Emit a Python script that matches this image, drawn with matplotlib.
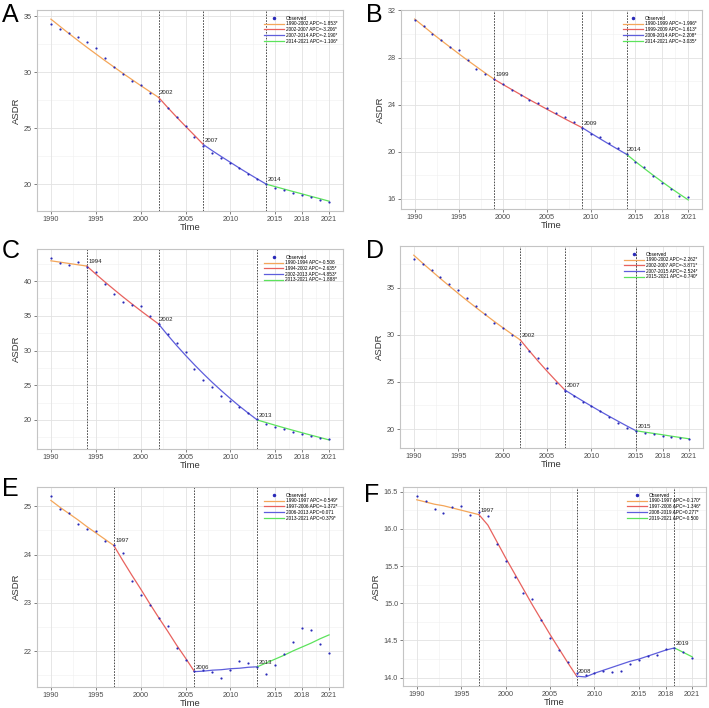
import matplotlib
matplotlib.use("Agg")
import matplotlib.pyplot as plt
from matplotlib.lines import Line2D

plt.rcParams['font.family'] = ['Liberation Sans', 'DejaVu Sans']

years = list(range(1990, 2022))
xticks = [1990, 1995, 2000, 2005, 2010, 2015, 2018, 2021]

# observed ASDR + fitted joinpoint values, per panel
obs_a = [34.37, 33.89, 33.50, 33.17, 32.69, 32.22, 31.29, 30.51, 29.88, 29.25, 28.86, 28.14,
         27.49, 26.83, 26.05, 25.24, 24.19, 23.44, 22.84, 22.34, 21.89, 21.44, 20.96, 20.45,
         20.00, 19.70, 19.49, 19.22, 19.04, 18.83, 18.59, 18.44]
fit_a = [34.76, 34.12, 33.48, 32.86, 32.25, 31.66, 31.07, 30.50, 29.93, 29.38, 28.83, 28.30,
         27.77, 26.88, 26.02, 25.19, 24.38, 23.55, 23.00, 22.48, 21.97, 21.46, 20.97, 20.49,
         20.02, 19.80, 19.58, 19.36, 19.15, 18.93, 18.72, 18.50]
joins_a = [1990, 2002, 2007, 2014, 2021]
apc_a = ["1990-2002 APC=-1.853*", "2002-2007 APC=-3.206*", "2007-2014 APC=-2.190*", "2014-2021 APC=-1.106*"]
yticks_a = [20, 25, 30, 35]

obs_b = [31.16, 30.68, 30.03, 29.53, 28.91, 28.63, 27.76, 27.00, 26.61, 26.16, 25.74, 25.26,
         24.84, 24.42, 24.11, 23.69, 23.32, 22.96, 22.53, 22.03, 21.49, 21.21, 20.74, 20.31,
         19.81, 19.11, 18.66, 17.96, 17.37, 16.83, 16.27, 16.16]
fit_b = [31.27, 30.66, 30.05, 29.46, 28.89, 28.32, 27.76, 27.22, 26.68, 26.16, 25.71, 25.28,
         24.85, 24.42, 24.01, 23.60, 23.20, 22.80, 22.41, 22.03, 21.56, 21.10, 20.65, 20.21,
         19.78, 19.17, 18.58, 18.01, 17.46, 16.92, 16.40, 15.90]
joins_b = [1990, 1999, 2009, 2014, 2021]
apc_b = ["1990-1999 APC=-1.996*", "1999-2009 APC=-1.613*", "2009-2014 APC=-2.208*", "2014-2021 APC=-3.035*"]
yticks_b = [16, 20, 24, 28, 32]

obs_c = [43.31, 42.59, 42.30, 42.68, 42.06, 41.25, 39.57, 38.13, 37.03, 36.60, 36.36, 34.92,
         33.77, 32.38, 31.13, 29.74, 27.39, 25.81, 24.71, 23.51, 22.79, 21.83, 20.97, 20.15,
         19.42, 18.95, 18.67, 18.24, 17.95, 17.71, 17.42, 17.23]
fit_c = [42.92, 42.73, 42.54, 42.35, 42.16, 41.01, 39.90, 38.82, 37.76, 36.74, 35.74, 34.77,
         33.82, 32.24, 30.74, 29.31, 27.94, 26.64, 25.39, 24.21, 23.08, 22.00, 20.98, 20.00,
         19.62, 19.24, 18.87, 18.51, 18.16, 17.81, 17.47, 17.13]
joins_c = [1990, 1994, 2002, 2013, 2021]
apc_c = ["1990-1994 APC=-0.508", "1994-2002 APC=-2.635*", "2002-2013 APC=-4.853*", "2013-2021 APC=-1.888*"]
yticks_c = [20, 25, 30, 35, 40]

obs_d = [38.00, 37.50, 36.82, 36.07, 35.39, 34.71, 33.89, 33.04, 32.21, 31.29, 30.71, 29.96,
         29.00, 28.29, 27.50, 26.43, 24.93, 24.07, 23.46, 22.86, 22.39, 21.89, 21.25, 20.61,
         20.14, 19.82, 19.61, 19.43, 19.29, 19.14, 19.07, 18.96]
fit_d = [38.43, 37.58, 36.76, 35.95, 35.16, 34.38, 33.62, 32.88, 32.16, 31.45, 30.76, 30.09,
         29.43, 28.29, 27.19, 26.13, 25.12, 24.14, 23.55, 22.98, 22.42, 21.87, 21.34, 20.82,
         20.31, 19.82, 19.67, 19.53, 19.39, 19.24, 19.10, 18.96]
joins_d = [1990, 2002, 2007, 2015, 2021]
apc_d = ["1990-2002 APC=-2.262*", "2002-2007 APC=-3.871*", "2007-2015 APC=-2.524*", "2015-2021 APC=-0.740*"]
yticks_d = [20, 25, 30, 35]

obs_e = [25.21, 24.94, 24.86, 24.64, 24.52, 24.49, 24.29, 24.19, 24.04, 23.45, 23.17, 22.95,
         22.69, 22.52, 22.07, 21.82, 21.60, 21.62, 21.57, 21.45, 21.62, 21.79, 21.75, 21.68,
         21.54, 21.72, 21.94, 22.19, 22.49, 22.45, 22.16, 21.96]
fit_e = [25.12, 24.98, 24.85, 24.72, 24.58, 24.45, 24.32, 24.19, 23.88, 23.58, 23.29, 22.99,
         22.70, 22.42, 22.13, 21.86, 21.58, 21.59, 21.61, 21.62, 21.64, 21.65, 21.67, 21.68,
         21.76, 21.84, 21.92, 22.01, 22.09, 22.17, 22.26, 22.34]
joins_e = [1990, 1997, 2006, 2013, 2021]
apc_e = ["1990-1997 APC=-0.549*", "1997-2006 APC=-1.372*", "2006-2013 APC=0.071", "2013-2021 APC=0.379*"]
yticks_e = [22, 23, 24, 25]

obs_f = [16.44, 16.37, 16.27, 16.21, 16.29, 16.30, 16.18, 16.22, 16.17, 15.79, 15.57, 15.35,
         15.14, 15.06, 14.78, 14.53, 14.37, 14.21, 14.06, 14.04, 14.06, 14.09, 14.07, 14.09,
         14.19, 14.24, 14.29, 14.31, 14.38, 14.40, 14.34, 14.27]
fit_f = [16.39, 16.36, 16.33, 16.31, 16.28, 16.25, 16.22, 16.19, 16.05, 15.83, 15.61, 15.40,
         15.19, 14.98, 14.78, 14.58, 14.39, 14.20, 14.02, 14.01, 14.06, 14.10, 14.14, 14.18,
         14.22, 14.25, 14.29, 14.33, 14.37, 14.40, 14.34, 14.28]
joins_f = [1990, 1997, 2008, 2019, 2021]
apc_f = ["1990-1997 APC=-0.170*", "1997-2008 APC=-1.346*", "2008-2019 APC=0.277*", "2019-2021 APC=-0.500"]
yticks_f = [14.0, 14.5, 15.0, 15.5, 16.0, 16.5]

# (letter, data..., axes box l,t,r,b in px, letter position x,y in px)
panels = [
    ("A", obs_a, fit_a, joins_a, apc_a, yticks_a, (37, 10, 343, 211), (2, 3)),
    ("B", obs_b, fit_b, joins_b, apc_b, yticks_b, (401, 10, 702, 209), (366, 3)),
    ("C", obs_c, fit_c, joins_c, apc_c, yticks_c, (37, 249, 343, 449), (2, 239)),
    ("D", obs_d, fit_d, joins_d, apc_d, yticks_d, (400, 246, 703, 448), (366, 239)),
    ("E", obs_e, fit_e, joins_e, apc_e, yticks_e, (37, 487, 343, 687), (2, 477)),
    ("F", obs_f, fit_f, joins_f, apc_f, yticks_f, (403, 487, 706, 686), (364, 483)),
]

seg_colors = ['#F4A65A', '#E8625E', '#5E5EDC', '#5CE35C']
W, H = 709, 708

fig = plt.figure(figsize=(W / 100, H / 100), dpi=100)

for letter, obs, fit, joins, apc, yt, box, lpos in panels:
    l, t, r, b = box
    ax = fig.add_axes([l / W, 1 - b / H, (r - l) / W, (b - t) / H])
    ax.set_facecolor('white')

    ax.scatter(years, obs, s=2.5, color='#2a2ab8', zorder=4, linewidths=0)
    handles = [Line2D([], [], marker='o', ms=1.5, ls='none', color='#2a2ab8', label='Observed')]
    for i in range(4):
        xs = [y for y in years if joins[i] <= y <= joins[i + 1]]
        ys = [fit[years.index(y)] for y in xs]
        ax.plot(xs, ys, color=seg_colors[i], lw=0.9, zorder=3)
        handles.append(Line2D([], [], color=seg_colors[i], lw=0.9, label=apc[i]))

    for jp in joins[1:-1]:
        ax.axvline(jp, color='#333333', lw=0.6, ls=(0, (2, 1.5)), zorder=2)
        ax.annotate(str(jp), (jp, fit[years.index(jp)]), xytext=(1, 1.5),
                    textcoords='offset points', fontsize=4.3, color='#222222',
                    ha='left', va='bottom')

    ax.set_xticks(xticks)
    ax.set_yticks(yt)
    ax.margins(x=0.05, y=0.05)
    ax.set_xlim(1988.45, 2022.55)
    if letter == "F":
        ax.set_yticklabels(["%.1f" % v for v in yt])

    # minor grid midway between major breaks
    xminor = [(xticks[i] + xticks[i + 1]) / 2 for i in range(len(xticks) - 1)]
    step = yt[1] - yt[0]
    yminor = [yt[0] - step / 2] + [v + step / 2 for v in yt]
    lo, hi = ax.get_ylim()
    ax.set_ylim(lo, hi)
    for xm in xminor:
        ax.axvline(xm, color='#F0F0F0', lw=0.4, zorder=0)
    for ym in yminor:
        if lo < ym < hi:
            ax.axhline(ym, color='#F0F0F0', lw=0.4, zorder=0)
    ax.grid(True, color='#E2E2E2', lw=0.6, zorder=0)
    ax.set_axisbelow(True)

    for s in ax.spines.values():
        s.set_color('#C4C4C4')
        s.set_linewidth(0.8)
    ax.tick_params(labelsize=5.2, colors='#4d4d4d', length=2, width=0.5, pad=1.5)
    ax.set_xlabel('Time', fontsize=6.8, color='#333333', labelpad=0)
    ax.set_ylabel('ASDR', fontsize=6.8, color='#333333', labelpad=2)

    ax.legend(handles=handles, loc='upper right', fontsize=3.4, frameon=False,
              handlelength=4.2, handletextpad=0.4, labelspacing=0.15,
              borderaxespad=0.8, markerfirst=True)

    fig.text(lpos[0] / W, 1 - lpos[1] / H, letter, fontsize=18, va='top', ha='left')

fig.savefig('out.png', dpi=100)
